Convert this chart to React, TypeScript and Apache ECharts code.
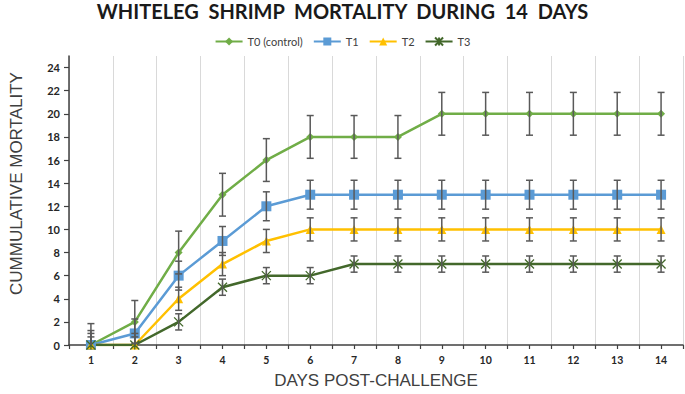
import React, { useEffect, useRef } from "react";
import * as echarts from "echarts";

const days = ["1", "2", "3", "4", "5", "6", "7", "8", "9", "10", "11", "12", "13", "14"];
const seriesNames = ["T0 (control)", "T1", "T2", "T3"];
const t0 = [0, 2, 8, 13, 16, 18, 18, 18, 20, 20, 20, 20, 20, 20];
const t1 = [0, 1, 6, 9, 12, 13, 13, 13, 13, 13, 13, 13, 13, 13];
const t2 = [0, 0, 4, 7, 9, 10, 10, 10, 10, 10, 10, 10, 10, 10];
const t3 = [0, 0, 2, 5, 6, 6, 7, 7, 7, 7, 7, 7, 7, 7];
const e0 = [1.85, 1.85, 1.85, 1.85, 1.85, 1.85, 1.85, 1.85, 1.85, 1.85, 1.85, 1.85, 1.85, 1.85];
const e1 = [1.25, 1.25, 1.25, 1.25, 1.25, 1.25, 1.25, 1.25, 1.25, 1.25, 1.25, 1.25, 1.25, 1.25];
const e2 = [1.0, 1.0, 1.0, 1.0, 1.0, 1.0, 1.0, 1.0, 1.0, 1.0, 1.0, 1.0, 1.0, 1.0];
const e3 = [0.7, 0.7, 0.7, 0.7, 0.7, 0.7, 0.7, 0.7, 0.7, 0.7, 0.7, 0.7, 0.7, 0.7];
const yTicks = [0, 2, 4, 6, 8, 10, 12, 14, 16, 18, 20, 22, 24];

const colors = ["#70AD47", "#5B9BD5", "#FFC000", "#43682B"];
const FONT = "Lato, 'Open Sans', sans-serif";
const NAME_FONT = "'Liberation Sans', Arial, sans-serif";

export default function App() {
  const ref = useRef<HTMLDivElement>(null);
  useEffect(() => {
    if (!ref.current) return;
    const chart = echarts.init(ref.current, null, { renderer: "svg" });
    const values = [t0, t1, t2, t3];
    const errs = [e0, e1, e2, e3];
    const symbols = ["diamond", "rect", "triangle", "path://M0,0L10,10M10,0L0,10M5,0L5,10"];
    const sizes = [8, 10, 9, 9];

    const lineSeries = values.map((v, k) => ({
      name: seriesNames[k],
      type: "line",
      data: v,
      symbol: symbols[k],
      symbolSize: sizes[k],
      lineStyle: { color: colors[k], width: 2.5 },
      itemStyle:
        k === 3
          ? { color: "none", borderColor: colors[k], borderWidth: 1.3 }
          : { color: colors[k] },
      z: 3,
    }));

    const errSeries = values.map((v, k) => ({
      name: seriesNames[k] + " err",
      type: "custom",
      clip: true,
      z: 4,
      data: v.map((y, i) => [i, y, errs[k][i]]),
      encode: { x: 0, y: 1 },
      renderItem: (params: any, api: any) => {
        const x = api.value(0);
        const y = api.value(1);
        const e = api.value(2);
        const top = api.coord([x, y + e]);
        const bot = api.coord([x, y - e]);
        const hw = 3.5;
        const style = { stroke: "#595959", lineWidth: 1.5 };
        return {
          type: "group",
          children: [
            { type: "line", shape: { x1: top[0], y1: top[1], x2: bot[0], y2: bot[1] }, style },
            { type: "line", shape: { x1: top[0] - hw, y1: top[1], x2: top[0] + hw, y2: top[1] }, style },
            { type: "line", shape: { x1: bot[0] - hw, y1: bot[1], x2: bot[0] + hw, y2: bot[1] }, style },
          ],
        };
      },
    }));

    chart.setOption({
      animation: false,
      title: {
        text: "WHITELEG  SHRIMP  MORTALITY  DURING  14  DAYS",
        left: "center",
        top: 1,
        padding: [0, 18, 0, 0],
        textStyle: { fontFamily: FONT, fontSize: 20, fontWeight: "bold", color: "#1a1a1a" },
      },
      legend: {
        data: seriesNames,
        top: 30,
        left: "center",
        padding: [5, 16, 5, 5],
        itemWidth: 27,
        itemHeight: 10,
        itemGap: 10,
        textStyle: { fontFamily: FONT, fontSize: 11, color: "#404040" },
      },
      grid: { left: 62, right: 2, top: 56, bottom: 47, containLabel: false },
      xAxis: [
        {
          type: "category",
          data: days,
          boundaryGap: true,
          name: "DAYS POST-CHALLENGE",
          nameLocation: "middle",
          nameGap: 27,
          nameTextStyle: { fontFamily: NAME_FONT, fontSize: 17, color: "#404040" },
          axisLine: { lineStyle: { color: "#404040", width: 1.5 } },
          axisTick: { show: true, interval: 0, length: 4, lineStyle: { color: "#404040", width: 1.2 } },
          axisLabel: { interval: 0, margin: 9, fontFamily: FONT, fontSize: 10.5, fontWeight: "bold", color: "#262626" },
          splitLine: { show: true, interval: 0, lineStyle: { color: "#d9d9d9", width: 1 } },
        },
        {
          type: "category",
          data: days,
          position: "bottom",
          boundaryGap: true,
          axisLine: { show: false },
          axisTick: { show: true, alignWithLabel: true, interval: 0, length: 4, lineStyle: { color: "#404040", width: 1.2 } },
          axisLabel: { show: false },
          splitLine: { show: false },
        },
      ],
      yAxis: {
        type: "value",
        min: 0,
        max: 25,
        interval: 1,
        name: "CUMMULATIVE MORTALITY",
        nameLocation: "middle",
        nameGap: 44,
        nameTextStyle: { fontFamily: NAME_FONT, fontSize: 17, color: "#404040", padding: [0, 0, 0, 34] },
        axisLine: { show: true, lineStyle: { color: "#404040", width: 1.5 } },
        axisTick: { show: true, length: 5, customValues: yTicks, lineStyle: { color: "#404040", width: 1.2 } },
        axisLabel: { customValues: yTicks, margin: 9, fontFamily: FONT, fontSize: 11, fontWeight: "bold", color: "#262626" },
        splitLine: { show: false },
      },
      series: [...lineSeries, ...errSeries],
    });
    return () => chart.dispose();
  }, []);
  return <div ref={ref} style={{ width: 685, height: 394, position: "absolute", left: 0, top: 0 }} />;
}
